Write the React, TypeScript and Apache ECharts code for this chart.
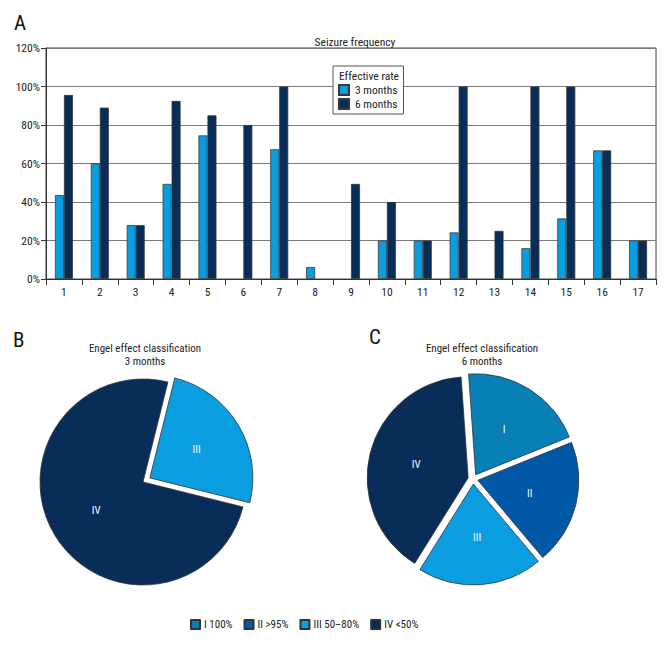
import React, { useEffect, useRef } from "react";
import * as echarts from "echarts";

const categories = ["1","2","3","4","5","6","7","8","9","10","11","12","13","14","15","16","17"];
const months3 = [43.6, 60, 28, 49.4, 74.6, 0, 67.4, 6.2, 0, 20, 20, 24.2, 0, 16, 31.5, 66.8, 20];
const months6 = [95.6, 89, 28, 92.5, 85, 80, 100, 0, 49.4, 40, 20, 100, 25, 100, 100, 66.8, 20];
const yTicks = [0, 20, 40, 60, 80, 100, 120];

const classNames = ["I 100%", "II >95%", "III 50–80%", "IV <50%"];
const classShort = ["I", "II", "III", "IV"];
const pie3Values = [25, 75]; // III, IV
const pie6Values = [20, 20, 20, 40]; // I, II, III, IV

const FONT = "Roboto Condensed";
const C_LIGHT = "#0a9ee0";
const C_DARK = "#082d58";
const C_TEAL = "#0880b5";
const C_MID = "#0058a6";
const classColors = [C_TEAL, C_MID, C_LIGHT, C_DARK];

export default function App() {
  const ref = useRef<HTMLDivElement>(null);
  useEffect(() => {
    const chart = echarts.init(ref.current!, null, { renderer: "svg" });
    const shortOf = (n: string) => classShort[classNames.indexOf(n)];
    const pieLabel = {
      show: true,
      position: "inside",
      color: "#f4faff",
      fontFamily: FONT,
      fontSize: 11,
      formatter: (p: any) => shortOf(p.name),
    };
    const nz = (v: number) => (v === 0 ? null : v);
    chart.setOption({
      animation: false,
      textStyle: { fontFamily: FONT },
      title: [
        { text: "Seizure frequency", left: 350, top: 31, textAlign: "center",
          textStyle: { fontSize: 11.5, fontWeight: "normal", color: "#222", fontFamily: FONT } },
        { text: "Engel effect classification\n3 months", left: 140, top: 337, textAlign: "center",
          textStyle: { fontSize: 11, fontWeight: "normal", color: "#222", fontFamily: FONT, lineHeight: 13 } },
        { text: "Engel effect classification\n6 months", left: 477, top: 337, textAlign: "center",
          textStyle: { fontSize: 11, fontWeight: "normal", color: "#222", fontFamily: FONT, lineHeight: 13 } },
      ],
      graphic: [
        { type: "text", left: 14, top: 12, style: { text: "A", fontSize: 21, fontFamily: FONT, fill: "#111" } },
        { type: "text", left: 13, top: 329, style: { text: "B", fontSize: 21, fontFamily: FONT, fill: "#111" } },
        { type: "text", left: 369, top: 326, style: { text: "C", fontSize: 21, fontFamily: FONT, fill: "#111" } },
        { type: "text", left: 339, top: 70, z: 100, style: { text: "Effective rate", fontSize: 11.5, fontFamily: FONT, fill: "#222" } },
      ],
      legend: [
        {
          data: ["3 months", "6 months"],
          orient: "vertical",
          left: 333, top: 66,
          padding: [18, 6, 4, 5],
          itemWidth: 10, itemHeight: 10, itemGap: 2,
          icon: "rect",
          backgroundColor: "#fff",
          borderColor: "#555", borderWidth: 1,
          textStyle: { fontSize: 11.5, color: "#222", fontFamily: FONT, padding: [0, 0, 0, 1] },
          selectedMode: false,
        },
        {
          data: classNames,
          orient: "horizontal",
          left: 185, top: 614,
          itemWidth: 9, itemHeight: 9, itemGap: 11,
          icon: "rect",
          textStyle: { fontSize: 11, color: "#222", fontFamily: FONT, padding: [0, 0, 0, -1] },
          selectedMode: false,
        },
      ],
      grid: {
        left: 46, right: 16, top: 48, bottom: 381,
        show: true, borderColor: "#444", borderWidth: 1, backgroundColor: "transparent",
      },
      xAxis: {
        type: "category",
        data: categories,
        axisLine: { lineStyle: { color: "#333" } },
        axisTick: { show: true, length: 6, lineStyle: { color: "#333" } },
        axisLabel: { fontSize: 11.5, color: "#222", fontFamily: FONT, margin: 7 },
      },
      yAxis: {
        type: "value",
        min: yTicks[0], max: yTicks[yTicks.length - 1], interval: 20,
        axisLine: { show: true, lineStyle: { color: "#333" } },
        axisTick: { show: true, length: 5, lineStyle: { color: "#333" } },
        axisLabel: { fontSize: 11.5, color: "#222", fontFamily: FONT, formatter: "{value}%", margin: 6 },
        splitLine: { lineStyle: { color: "#7a7a7a" } },
      },
      series: [
        {
          name: "3 months", type: "bar", data: months3.map(nz), barWidth: 9, barGap: "0%",
          itemStyle: { color: C_LIGHT, borderColor: "#3a3a3a", borderWidth: 0.8 },
        },
        {
          name: "6 months", type: "bar", data: months6.map(nz), barWidth: 9,
          itemStyle: { color: C_DARK, borderColor: "#3a3a3a", borderWidth: 0.8 },
        },
        {
          type: "pie",
          center: [143, 482], radius: 103,
          startAngle: 76, clockwise: true,
          selectedMode: "multiple", selectedOffset: 8,
          label: pieLabel, labelLine: { show: false },
          emphasis: { disabled: true },
          itemStyle: { borderColor: "#333", borderWidth: 0.8 },
          data: [
            { name: classNames[2], value: pie3Values[0], selected: true, itemStyle: { color: classColors[2] } },
            { name: classNames[3], value: pie3Values[1], itemStyle: { color: classColors[3] } },
          ],
        },
        {
          type: "pie",
          center: [473, 479], radius: 101,
          startAngle: 94, clockwise: true,
          selectedMode: "multiple", selectedOffset: 5,
          label: pieLabel, labelLine: { show: false },
          emphasis: { disabled: true },
          itemStyle: { borderColor: "#333", borderWidth: 0.8 },
          data: classNames.map((n, i) => ({
            name: n, value: pie6Values[i], selected: true, itemStyle: { color: classColors[i] },
          })),
        },
      ],
    });
    return () => chart.dispose();
  }, []);
  return <div ref={ref} style={{ width: 672, height: 660, position: "absolute", left: 0, top: 0 }} />;
}
